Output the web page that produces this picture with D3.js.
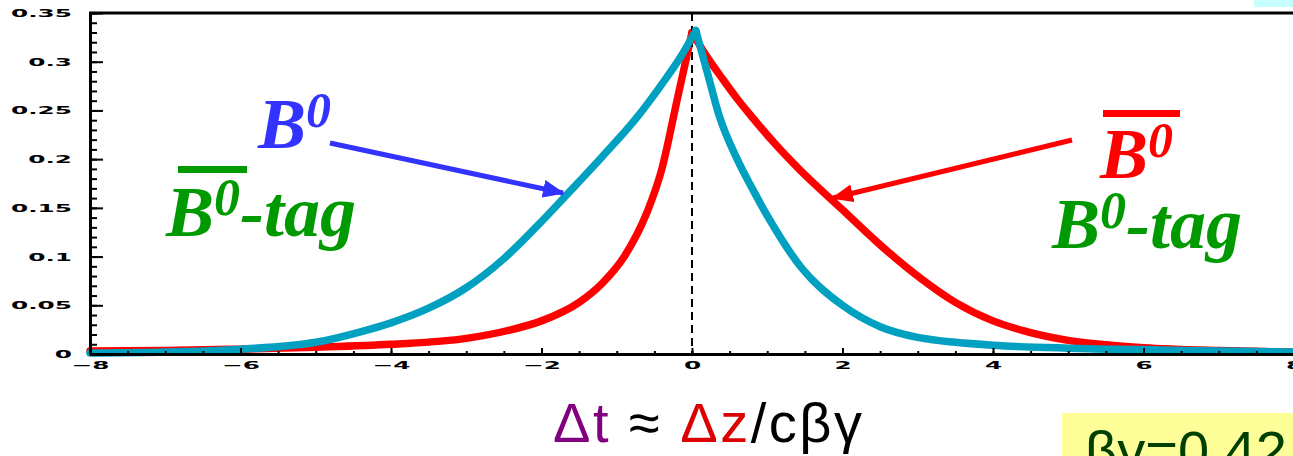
<!DOCTYPE html>
<html>
<head>
<meta charset="utf-8">
<script src="https://cdn.jsdelivr.net/npm/d3@7"></script>
<style>
  html, body { margin: 0; padding: 0; background: #fff; overflow: hidden; }
  svg { display: block; }
</style>
</head>
<body>
<svg id="chart" width="1293" height="456"></svg>
<script>
// ---- data ----
const b0Time  = [-8, -7, -6, -5, -4.32, -4, -3.5, -3, -2.52, -2, -1.67, -1.2, -0.74, -0.4, -0.15, 0.05,
                 0.2, 0.36, 0.6, 0.8, 1, 1.46, 2, 2.5, 3, 3.5, 4, 5, 6, 7, 8];
const b0Value = [0.001, 0.002, 0.005, 0.012, 0.0246, 0.032, 0.047, 0.068, 0.0965, 0.136, 0.163, 0.202, 0.242, 0.277, 0.305, 0.332,
                 0.29, 0.245, 0.2, 0.17, 0.142, 0.088, 0.05, 0.028, 0.017, 0.012, 0.009, 0.006, 0.0045, 0.003, 0.002];
const b0barTime  = [-8, -7, -6, -5, -4, -3, -2.42, -2, -1.5, -1.2, -0.9, -0.6, -0.4, -0.2, 0,
                    0.2, 0.4, 0.6, 0.8, 1.1, 1.42, 2, 2.5, 3.05, 3.5, 4, 4.4, 5, 5.5, 6, 7, 8];
const b0barValue = [0.003, 0.0035, 0.005, 0.007, 0.01, 0.016, 0.0246, 0.034, 0.053, 0.072, 0.1, 0.145, 0.19, 0.26, 0.33,
                    0.305, 0.283, 0.262, 0.243, 0.216, 0.19, 0.148, 0.112, 0.077, 0.053, 0.034, 0.024, 0.014, 0.0095, 0.0065, 0.0035, 0.002];

const xTickValues = [-8, -6, -4, -2, 0, 2, 4, 6, 8];
const xTickLabels = ["\u22128", "\u22126", "\u22124", "\u22122", "0", "2", "4", "6", "8"];
const yTickValues = [0, 0.05, 0.1, 0.15, 0.2, 0.25, 0.3, 0.35];
const yTickLabels = ["0", "0.05", "0.1", "0.15", "0.2", "0.25", "0.3", "0.35"];

// ---- layout ----
const svg = d3.select("#chart");
const x = d3.scaleLinear().domain([-8, 8]).range([90, 1294]);
const y = d3.scaleLinear().domain([0, 0.35]).range([354, 13]);
const STRETCH = 2.25;

// decorative box
svg.append("rect").attr("x", 1254).attr("y", 0).attr("width", 39).attr("height", 7).attr("fill", "#c8ffff");

// top frame line
svg.append("line").attr("x1", 89).attr("x2", 1293).attr("y1", y(0.35)).attr("y2", y(0.35))
  .attr("stroke", "#000").attr("stroke-width", 3);

// curves
function branches(ts, vs) {
  const pts = ts.map((t, i) => [t, vs[i]]);
  let peak = 0;
  pts.forEach((p, i) => { if (p[1] > pts[peak][1]) peak = i; });
  return [pts.slice(0, peak + 1), pts.slice(peak)];
}
const line = d3.line().x(d => x(d[0])).y(d => y(d[1])).curve(d3.curveMonotoneX);
function drawSeries(ts, vs, color) {
  branches(ts, vs).forEach(b => {
    svg.append("path").attr("d", line(b)).attr("fill", "none")
      .attr("stroke", color).attr("stroke-width", 7.5)
      .attr("stroke-linecap", "round").attr("stroke-linejoin", "round");
  });
}
drawSeries(b0barTime, b0barValue, "#ff0000");

// dashed zero line
svg.append("line").attr("x1", x(0)).attr("x2", x(0)).attr("y1", y(0.35)).attr("y2", y(0))
  .attr("stroke", "#000").attr("stroke-width", 2).attr("stroke-dasharray", "8,5");

drawSeries(b0Time, b0Value, "#00a0c0");

// axes
const yAxis = d3.axisLeft(y).tickValues(yTickValues).tickSizeInner(-13).tickSizeOuter(0)
  .tickPadding(8).tickFormat((d, i) => yTickLabels[i]);
const yMinor = d3.axisLeft(y).tickValues(d3.range(0, 36).map(i => i / 100)).tickSizeInner(-7).tickSizeOuter(0).tickFormat("");
const xAxis = d3.axisBottom(x).tickValues(xTickValues).tickSizeInner(-6).tickSizeOuter(0)
  .tickPadding(7).tickFormat((d, i) => xTickLabels[i]);
const xMinor = d3.axisBottom(x).tickValues(d3.range(-16, 17).map(i => i / 2)).tickSizeInner(-3).tickSizeOuter(0).tickFormat("");

const gyMinor = svg.append("g").attr("transform", `translate(${x(-8)},0)`).call(yMinor);
const gy = svg.append("g").attr("transform", `translate(${x(-8)},0)`).call(yAxis);
const gxMinor = svg.append("g").attr("transform", `translate(0,${y(0)})`).call(xMinor);
const gx = svg.append("g").attr("transform", `translate(0,${y(0)})`).call(xAxis);

[gy, gyMinor, gx, gxMinor].forEach(g => {
  g.select(".domain").attr("stroke", "#000").attr("stroke-width", 3);
  g.selectAll(".tick line").attr("stroke", "#000").attr("stroke-width", 2);
});
gy.selectAll(".tick text")
  .attr("font-family", "DejaVu Sans").attr("font-weight", "bold").attr("font-size", 11).attr("fill", "#000")
  .attr("x", -18 / STRETCH).attr("transform", `scale(${STRETCH},1)`);
gx.selectAll(".tick text")
  .attr("font-family", "DejaVu Sans").attr("font-weight", "bold").attr("font-size", 11).attr("fill", "#000")
  .attr("transform", `scale(${STRETCH},1)`);

// arrows
const defs = svg.append("defs");
[["blueHead", "#3333ff"], ["redHead", "#ff0000"]].forEach(([id, c]) => {
  defs.append("marker").attr("id", id).attr("viewBox", "0 0 22 18").attr("refX", 20).attr("refY", 9)
    .attr("markerWidth", 22).attr("markerHeight", 18).attr("markerUnits", "userSpaceOnUse").attr("orient", "auto")
    .append("path").attr("d", "M0,0 L22,9 L0,18 Z").attr("fill", c);
});
svg.append("line").attr("x1", 330).attr("y1", 143).attr("x2", 563).attr("y2", 193)
  .attr("stroke", "#3333ff").attr("stroke-width", 5).attr("marker-end", "url(#blueHead)");
svg.append("line").attr("x1", 1072).attr("y1", 140).attr("x2", 833).attr("y2", 198)
  .attr("stroke", "#ff0000").attr("stroke-width", 5).attr("marker-end", "url(#redHead)");

// labels
const serif = "Liberation Serif, Times New Roman, serif";
function label(xp, yp, size, color, parts) {
  const t = svg.append("text").attr("x", xp).attr("y", yp).attr("font-family", serif)
    .attr("font-weight", "bold").attr("font-style", "italic").attr("font-size", size).attr("fill", color);
  parts.forEach(p => t.append("tspan").attr("font-size", p.size || size).attr("dy", p.dy || 0).text(p.text));
}
label(258, 148, 72, "#3333ff", [{ text: "B" }, { text: "0", size: 50, dy: -21 }]);
label(166, 236, 72, "#009900", [{ text: "B" }, { text: "0", size: 52, dy: -21 }, { text: "-tag", dy: 21 }]);
svg.append("line").attr("x1", 178).attr("x2", 247).attr("y1", 169.5).attr("y2", 169.5).attr("stroke", "#009900").attr("stroke-width", 7);
label(1100, 178, 72, "#ff0000", [{ text: "B" }, { text: "0", size: 50, dy: -21 }]);
svg.append("line").attr("x1", 1103).attr("x2", 1180).attr("y1", 113.5).attr("y2", 113.5).attr("stroke", "#ff0000").attr("stroke-width", 7);
label(1052, 248, 72, "#009900", [{ text: "B" }, { text: "0", size: 52, dy: -20 }, { text: "-tag", dy: 20 }]);

// axis title
const title = svg.append("text").attr("x", 553).attr("y", 442)
  .attr("font-family", "Liberation Sans, Arial, sans-serif").attr("font-size", 56)
  .attr("textLength", 309).attr("lengthAdjust", "spacing");
title.append("tspan").attr("fill", "#800080").text("\u0394t");
title.append("tspan").attr("fill", "#000").text(" \u2248 ");
title.append("tspan").attr("fill", "#dd0000").text("\u0394z");
title.append("tspan").attr("fill", "#000").text("/c\u03b2\u03b3");

// yellow box
svg.append("rect").attr("x", 1062).attr("y", 413).attr("width", 231).attr("height", 43).attr("fill", "#ffff99");
svg.append("text").attr("x", 1085).attr("y", 470).attr("font-family", "Liberation Sans, Arial, sans-serif")
  .attr("font-size", 56).attr("fill", "#004000").text("\u03b2\u03b3=0.42");
</script>
</body>
</html>
